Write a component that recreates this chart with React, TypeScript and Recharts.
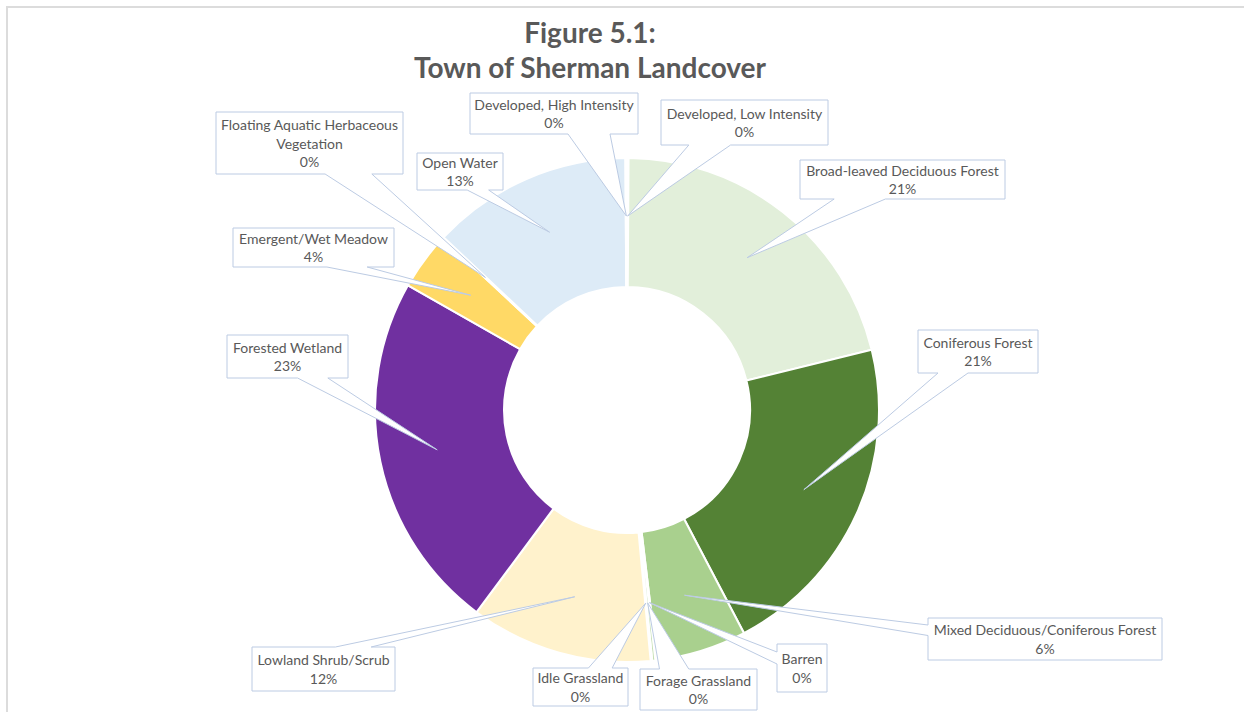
import React from 'react'
import { PieChart, Pie, Cell } from 'recharts'

// landcover classes, clockwise from 12 o'clock
const CATEGORIES = [
  'Developed, Low Intensity',
  'Broad-leaved Deciduous Forest',
  'Coniferous Forest',
  'Mixed Deciduous/Coniferous Forest',
  'Barren',
  'Forage Grassland',
  'Idle Grassland',
  'Lowland Shrub/Scrub',
  'Forested Wetland',
  'Emergent/Wet Meadow',
  'Floating Aquatic Herbaceous Vegetation',
  'Open Water',
  'Developed, High Intensity',
]

// share of town area (%)
const SHARES = [0.1, 21.1, 21.2, 5.8, 0.1, 0.2, 0.1, 11.7, 23.1, 3.7, 0.1, 12.9, 0.1]

const COLORS = [
  '#C00000', '#E2EFDA', '#548235', '#A9D08E', '#A6A6A6', '#C6E0B4', '#FFE699',
  '#FFF2CC', '#7030A0', '#FFD966', '#70AD47', '#DDEBF7', '#BDD7EE',
]

// callout boxes placed by hand, as in the original: [left, top, right, bottom]
const CALLOUT_BOXES = [
  [661, 100, 828, 145],
  [800, 160, 1005, 199],
  [918, 330, 1038, 373],
  [928, 618, 1162, 660],
  [777, 644, 827, 692],
  [640, 669, 757, 710],
  [533, 668, 628, 706],
  [252, 647, 395, 691],
  [227, 335, 348, 378],
  [233, 228, 394, 267],
  [216, 112, 403, 174],
  [417, 153, 503, 190],
  [470, 93, 638, 134],
]

const data = CATEGORIES.map((name, i) => ({ name, value: SHARES[i] }))

const RADIAN = Math.PI / 180
const TEXT = '#595959'
const FONT = 'Lato, "Open Sans", sans-serif'

function wrapLines(text: string, maxWidth: number, charW = 6.2) {
  const words = text.split(' ')
  const lines: string[] = []
  let cur = ''
  for (const w of words) {
    const next = cur ? cur + ' ' + w : w
    if (cur && next.length * charW > maxWidth) {
      lines.push(cur)
      cur = w
    } else cur = next
  }
  if (cur) lines.push(cur)
  return lines
}

// rectangle with a wedge pointing to (tx, ty), like Excel's wedgeRectCallout
function calloutPath(l: number, t: number, r: number, b: number, tx: number, ty: number) {
  const w = r - l
  const h = b - t
  const dx = tx - (l + r) / 2
  const dy = ty - (t + b) / 2
  let side = ''
  if (Math.abs(dx) > w / 2 || Math.abs(dy) > h / 2) {
    side = Math.abs(dx) / w > (Math.abs(dy) / h) * 1.15 ? (dx < 0 ? 'L' : 'R') : dy < 0 ? 'T' : 'B'
  }
  const fx = dx < 0 ? [2 / 12, 5 / 12] : [7 / 12, 10 / 12]
  const fy = dy < 0 ? [2 / 12, 5 / 12] : [7 / 12, 10 / 12]
  const pts: number[][] = [[l, t]]
  if (side === 'T') pts.push([l + w * fx[0], t], [tx, ty], [l + w * fx[1], t])
  pts.push([r, t])
  if (side === 'R') pts.push([r, t + h * fy[0]], [tx, ty], [r, t + h * fy[1]])
  pts.push([r, b])
  if (side === 'B') pts.push([l + w * fx[1], b], [tx, ty], [l + w * fx[0], b])
  pts.push([l, b])
  if (side === 'L') pts.push([l, t + h * fy[1]], [tx, ty], [l, t + h * fy[0]])
  return 'M' + pts.map(p => p.join(',')).join('L') + 'Z'
}

function renderCallout(props: any) {
  const { cx, cy, midAngle, innerRadius, outerRadius, percent, index, name } = props
  const rad = innerRadius + (outerRadius - innerRadius) * 0.55
  const tx = cx + rad * Math.cos(-midAngle * RADIAN)
  const ty = cy + rad * Math.sin(-midAngle * RADIAN)
  const [l, t, r, b] = CALLOUT_BOXES[index]
  const lines = [...wrapLines(String(name), r - l), `${Math.round(percent * 100)}%`]
  const lh = 18.5
  const y0 = (t + b) / 2 - ((lines.length - 1) * lh) / 2
  return (
    <g key={`callout-${index}`}>
      <path d={calloutPath(l, t, r, b, tx, ty)} fill="#fff" stroke="#bccbe3" strokeWidth={1} />
      {lines.map((ln, i) => (
        <text
          key={i}
          x={(l + r) / 2}
          y={y0 + i * lh}
          textAnchor="middle"
          dominantBaseline="central"
          fontFamily={FONT}
          fontSize={14}
          fill={TEXT}
        >
          {ln}
        </text>
      ))}
    </g>
  )
}

export default function App() {
  return (
    <div style={{ position: 'absolute', left: 0, top: 0, width: 1244, height: 712, overflow: 'hidden', background: '#fff' }}>
      <div style={{ position: 'absolute', left: 6, top: 6, width: 1400, height: 900, border: '2px solid #dcdcdc' }} />
      <div
        style={{
          position: 'absolute',
          left: 390,
          width: 400,
          top: 15,
          textAlign: 'center',
          fontFamily: FONT,
          fontWeight: 700,
          fontSize: 28,
          lineHeight: '35px',
          color: TEXT,
        }}
      >
        Figure 5.1:
        <br />
        Town of Sherman Landcover
      </div>
      <div style={{ position: 'absolute', left: 0, top: 0 }}>
        <PieChart width={1244} height={712} margin={{ top: 0, right: 0, bottom: 0, left: 0 }}>
          <Pie
            data={data}
            dataKey="value"
            nameKey="name"
            cx={627}
            cy={410}
            innerRadius={123}
            outerRadius={252}
            startAngle={90}
            endAngle={-270}
            stroke="#fff"
            strokeWidth={2}
            isAnimationActive={false}
            label={renderCallout}
            labelLine={false}
          >
            {data.map((d, i) => (
              <Cell key={d.name} fill={COLORS[i]} />
            ))}
          </Pie>
        </PieChart>
      </div>
    </div>
  )
}
